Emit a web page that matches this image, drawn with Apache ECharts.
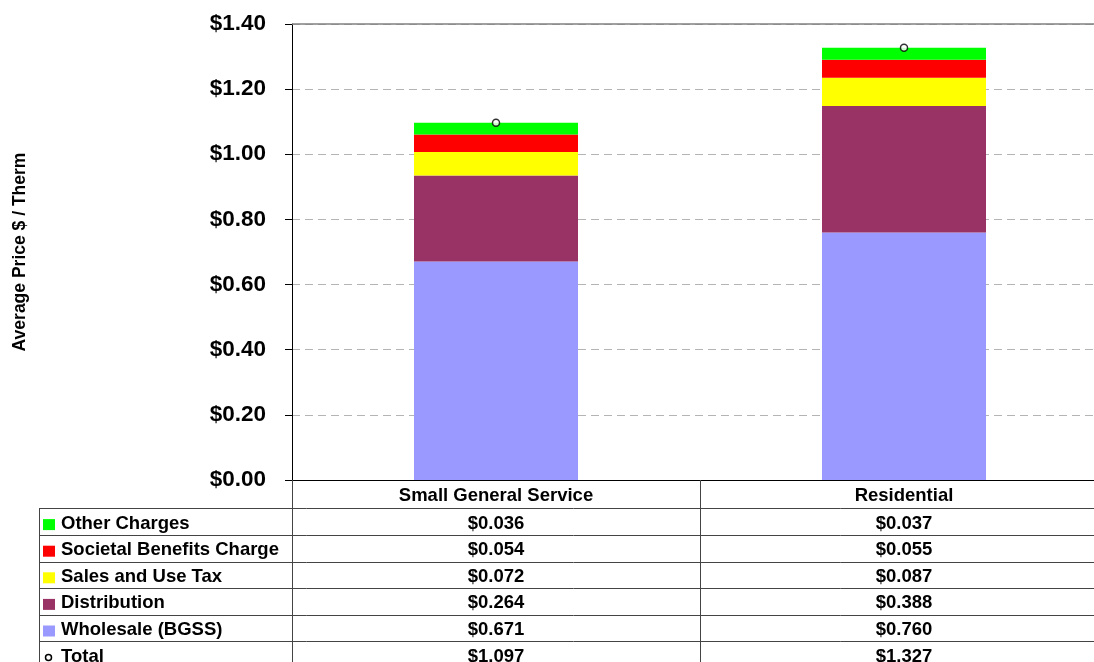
<!DOCTYPE html>
<html>
<head>
<meta charset="utf-8">
<title>Average Price $ / Therm</title>
<script src="https://cdn.jsdelivr.net/npm/echarts@6/dist/echarts.min.js"></script>
<style>
  html, body { margin: 0; padding: 0; background: #fff; overflow: hidden; width: 1094px; height: 662px; }
  #chart { width: 1108px; height: 662px; }
</style>
</head>
<body>
<div id="chart"></div>
<script>
// Rate classes and the components of their average price ($ per therm)
const categories = ['Small General Service', 'Residential'];
const wholesale = [0.671, 0.760];
const distribution = [0.264, 0.388];
const salesTax = [0.072, 0.087];
const societalBenefits = [0.054, 0.055];
const otherCharges = [0.036, 0.037];
const totals = [1.097, 1.327];

const FONT = '"Liberation Sans", Arial, Helvetica, sans-serif';
const COLORS = {
  wholesale: '#9999FF',
  distribution: '#993366',
  salesTax: '#FFFF00',
  societal: '#FF0000',
  other: '#00FF00'
};

// Rows of the data table under the chart, top to bottom
const tableRows = [
  { name: 'Other Charges', data: otherCharges, color: COLORS.other },
  { name: 'Societal Benefits Charge', data: societalBenefits, color: COLORS.societal },
  { name: 'Sales and Use Tax', data: salesTax, color: COLORS.salesTax },
  { name: 'Distribution', data: distribution, color: COLORS.distribution },
  { name: 'Wholesale (BGSS)', data: wholesale, color: COLORS.wholesale },
  { name: 'Total', data: totals, marker: true }
];

const HEADER_H = 28.3;
const ROW_H = 26.6;
const TABLE_FONT = 18.5;
const LINE_COLOR = '#444';

const money = v => '$' + v.toFixed(3);

const chart = echarts.init(document.getElementById('chart'), null, { renderer: 'canvas' });

function stackSeries(name, data, color) {
  return {
    name, type: 'bar', stack: 'price', data,
    barWidth: 164,
    itemStyle: { color },
    emphasis: { disabled: true },
    silent: true
  };
}

chart.setOption({
  animation: false,
  backgroundColor: '#fff',
  textStyle: { fontFamily: FONT },
  grid: { left: 292, top: 24, right: 0, bottom: 182, containLabel: false, outerBoundsMode: 'none' },
  xAxis: {
    type: 'category',
    data: categories,
    boundaryGap: true,
    axisLine: { show: true, lineStyle: { color: '#000', width: 1 } },
    // long ticks at the band edges form the table's column dividers
    axisTick: { show: true, inside: false, length: 182, lineStyle: { color: LINE_COLOR, width: 1 } },
    splitLine: { show: false },
    axisLabel: {
      margin: 2,
      interval: 0,
      color: '#000',
      formatter: (value, idx) => {
        const lines = ['{h|' + value + '}'];
        tableRows.forEach(r => lines.push('{v|' + money(r.data[idx]) + '}'));
        return lines.join('\n');
      },
      rich: {
        h: { fontFamily: FONT, fontSize: TABLE_FONT, fontWeight: 'bold', color: '#000', lineHeight: HEADER_H },
        v: { fontFamily: FONT, fontSize: TABLE_FONT, fontWeight: 'bold', color: '#000', lineHeight: ROW_H }
      }
    }
  },
  yAxis: {
    type: 'value',
    min: 0,
    max: 1.4,
    interval: 0.2,
    name: 'Average Price $ / Therm',
    nameLocation: 'middle',
    nameRotate: 90,
    nameGap: 263,
    nameTextStyle: { fontFamily: FONT, fontSize: 17.5, fontWeight: 'bold', color: '#000' },
    axisLine: { show: true, lineStyle: { color: '#000', width: 1 } },
    axisTick: { show: true, inside: false, length: 7, lineStyle: { color: '#000' } },
    axisLabel: {
      margin: 26,
      color: '#000',
      fontFamily: FONT,
      fontSize: 22.5,
      fontWeight: 'bold',
      formatter: v => '$' + v.toFixed(2)
    },
    splitLine: { show: true, lineStyle: { color: '#b4b4b4', width: 1, type: [8, 5] } }
  },
  series: [
    stackSeries('Wholesale (BGSS)', wholesale, COLORS.wholesale),
    stackSeries('Distribution', distribution, COLORS.distribution),
    stackSeries('Sales and Use Tax', salesTax, COLORS.salesTax),
    stackSeries('Societal Benefits Charge', societalBenefits, COLORS.societal),
    stackSeries('Other Charges', otherCharges, COLORS.other),
    {
      name: 'Total',
      type: 'scatter',
      data: totals,
      symbol: 'circle',
      symbolSize: 7,
      itemStyle: { color: '#fff', borderColor: '#000', borderWidth: 1.5 },
      silent: true,
      z: 5,
      markLine: {
        silent: true,
        symbol: 'none',
        label: { show: false },
        lineStyle: { color: '#808080', type: 'solid', width: 1.5 },
        data: [{ yAxis: 1.4 }]
      }
    }
  ]
});

// Legend column and row rules of the data table
const y0 = chart.convertToPixel({ yAxisIndex: 0 }, 0);
const tableLeft = 39;
const tableRight = 1108;
const graphics = [];
const firstRowTop = y0 + HEADER_H;

graphics.push({
  type: 'line', silent: true,
  shape: { x1: tableLeft + 0.5, y1: firstRowTop, x2: tableLeft + 0.5, y2: 662 },
  style: { stroke: LINE_COLOR, lineWidth: 1 }
});

tableRows.forEach((r, i) => {
  const top = firstRowTop + i * ROW_H;
  const mid = top + ROW_H / 2;
  graphics.push({
    type: 'line', silent: true,
    shape: { x1: tableLeft, y1: Math.round(top) + 0.5, x2: tableRight, y2: Math.round(top) + 0.5 },
    style: { stroke: LINE_COLOR, lineWidth: 1 }
  });
  if (r.marker) {
    graphics.push({
      type: 'circle', silent: true,
      shape: { cx: 48.5, cy: mid + 3, r: 3 },
      style: { fill: '#fff', stroke: '#000', lineWidth: 1.5 }
    });
  } else {
    graphics.push({
      type: 'rect', silent: true,
      shape: { x: 43, y: mid - 2.5, width: 12, height: 11 },
      style: { fill: r.color }
    });
  }
  graphics.push({
    type: 'text', silent: true,
    x: 61, y: mid + 2,
    style: {
      text: r.name,
      fontFamily: FONT, fontSize: TABLE_FONT, fontWeight: 'bold',
      fill: '#000', verticalAlign: 'middle', align: 'left'
    }
  });
});

chart.setOption({ graphic: graphics });
</script>
</body>
</html>
